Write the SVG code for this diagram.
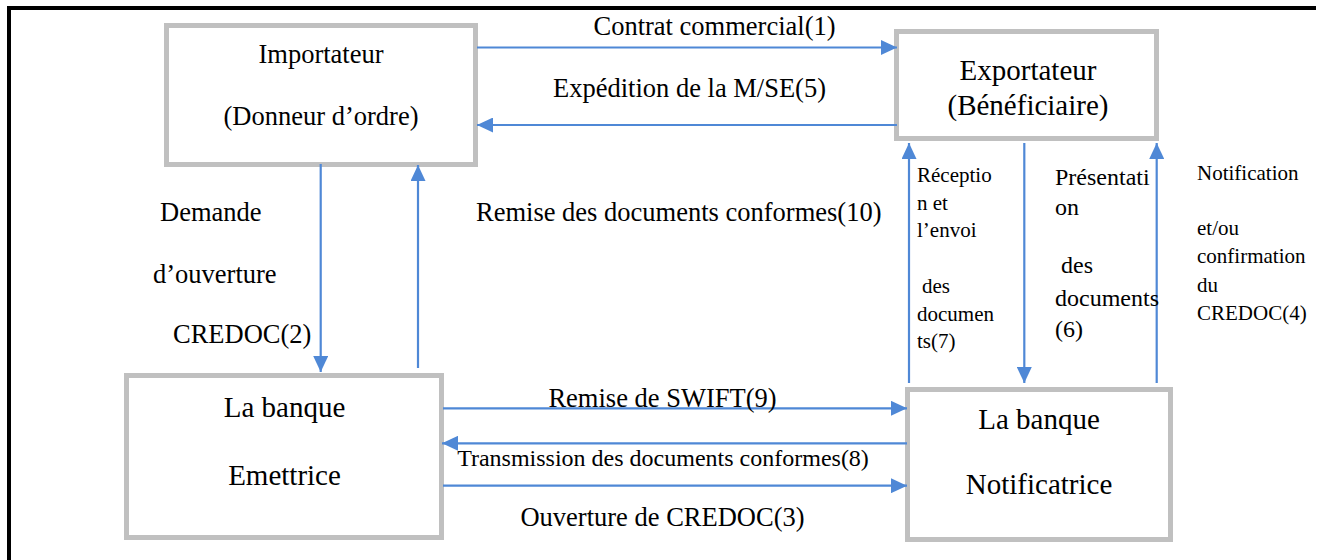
<svg xmlns="http://www.w3.org/2000/svg" width="1320" height="560" viewBox="0 0 1320 560">
<style>
.box{fill:#ffffff;stroke:#c0c0c0;stroke-width:5}
.t{font-family:"Liberation Serif","Times New Roman",serif;fill:#000000}
.lbl{font-size:26.5px}
.nm{font-size:26.5px}
.bk{font-size:29px}
.sm{font-size:21px}
.md{font-size:24px}
.c{text-anchor:middle}
.ar{stroke:#4f88d6;stroke-width:2.2;fill:none;marker-end:url(#ah)}
</style>
<defs>
<marker id="ah" markerUnits="userSpaceOnUse" markerWidth="16" markerHeight="15" refX="16" refY="7.5" orient="auto">
<path d="M0,0 L16,7.5 L0,15 z" fill="#4f88d6"/>
</marker>
</defs>
<rect width="1320" height="560" fill="#ffffff"/>
<g id="frame">
<line x1="7" y1="8" x2="1316" y2="8" stroke="#000" stroke-width="4"/>
<line x1="9" y1="6" x2="9" y2="560" stroke="#000" stroke-width="4"/>
</g>
<g id="importateur">
<rect class="box" x="166.5" y="25.5" width="309" height="139"/>
<text class="t nm c" x="321" y="63">Importateur</text>
<text class="t nm c" x="321" y="125">(Donneur d’ordre)</text>
</g>
<g id="exportateur">
<rect class="box" x="896.5" y="31.5" width="260" height="107"/>
<text class="t bk c" x="1028" y="80">Exportateur</text>
<text class="t bk c" x="1028" y="115">(Bénéficiaire)</text>
</g>
<g id="emettrice">
<rect class="box" x="126.5" y="375.5" width="315" height="162"/>
<text class="t bk c" x="284.5" y="417">La banque</text>
<text class="t bk c" x="284.5" y="485">Emettrice</text>
</g>
<g id="notificatrice">
<rect class="box" x="907.5" y="389.5" width="263" height="150"/>
<text class="t bk c" x="1039" y="429">La banque</text>
<text class="t bk c" x="1039" y="494">Notificatrice</text>
</g>
<g id="connectors">
<line class="ar" x1="477" y1="47.5" x2="897" y2="47.5"/>
<line class="ar" x1="897" y1="125" x2="477" y2="125"/>
<line class="ar" x1="320.7" y1="164" x2="320.7" y2="372"/>
<line class="ar" x1="418" y1="368" x2="418" y2="165"/>
<line class="ar" x1="443" y1="408.3" x2="907" y2="408.3"/>
<line class="ar" x1="907" y1="443.3" x2="442" y2="443.3"/>
<line class="ar" x1="443" y1="485.7" x2="907" y2="485.7"/>
<line class="ar" x1="909" y1="383" x2="909" y2="143"/>
<line class="ar" x1="1024.3" y1="143" x2="1024.3" y2="383"/>
<line class="ar" x1="1156.7" y1="383" x2="1156.7" y2="143"/>
</g>
<g id="labels">
<text class="t lbl c" x="714.5" y="35">Contrat commercial(1)</text>
<text class="t lbl c" x="689.5" y="97">Expédition de la M/SE(5)</text>
<text class="t lbl" x="160" y="221">Demande</text>
<text class="t lbl" x="153" y="283">d’ouverture</text>
<text class="t lbl" x="173" y="343">CREDOC(2)</text>
<text class="t lbl" x="476" y="221">Remise des documents conformes(10)</text>
<text class="t lbl c" x="662.5" y="407">Remise de SWIFT(9)</text>
<text class="t md c" x="663" y="466">Transmission des documents conformes(8)</text>
<text class="t lbl c" x="662.5" y="526">Ouverture de CREDOC(3)</text>
<text class="t sm" x="917" y="182">Réceptio</text>
<text class="t sm" x="917" y="210">n et</text>
<text class="t sm" x="917" y="237">l’envoi</text>
<text class="t sm" x="922" y="293">des</text>
<text class="t sm" x="917" y="321">documen</text>
<text class="t sm" x="917" y="348">ts(7)</text>
<text class="t md" x="1055" y="185">Présentati</text>
<text class="t md" x="1055" y="215">on</text>
<text class="t md" x="1061" y="273">des</text>
<text class="t md" x="1055" y="306">documents</text>
<text class="t md" x="1055" y="337">(6)</text>
<text class="t sm" x="1197" y="180">Notification</text>
<text class="t sm" x="1197" y="235">et/ou</text>
<text class="t sm" x="1197" y="263">confirmation</text>
<text class="t sm" x="1197" y="292">du</text>
<text class="t sm" x="1197" y="320">CREDOC(4)</text>
</g>
</svg>
